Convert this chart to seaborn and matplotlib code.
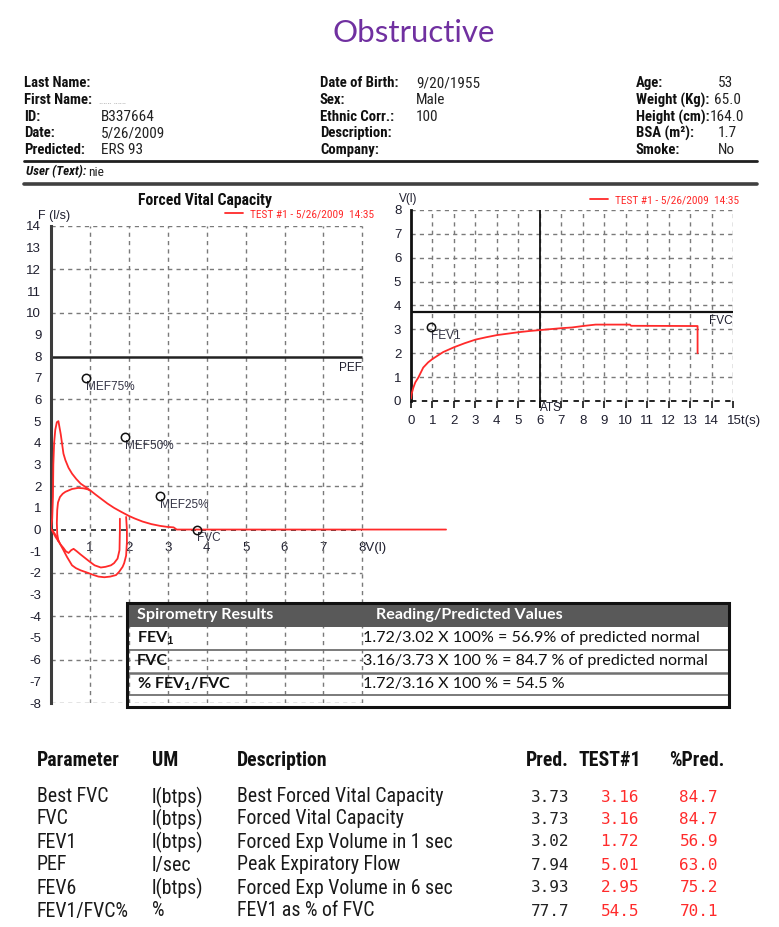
import numpy as np
import pandas as pd
import matplotlib
matplotlib.use("Agg")
import matplotlib.pyplot as plt
import seaborn as sns
from matplotlib.lines import Line2D
from matplotlib.patches import Rectangle
from matplotlib.transforms import ScaledTranslation
from matplotlib import font_manager as fm

# ---------------- data ----------------
# Flow-volume: forced expiration (volume l, flow l/s)
exp_vol = [0.0, 0.03, 0.05, 0.06, 0.08, 0.11, 0.15, 0.19, 0.25, 0.32, 0.37, 0.45, 0.54, 0.65,
           0.76, 0.88, 1.0, 1.14, 1.28, 1.45, 1.62, 1.8, 2.0, 2.15, 2.35, 2.58, 2.8, 3.0, 3.15,
           3.23, 10.15]
exp_flow = [0.0, 0.5, 1.5, 3.0, 4.0, 4.6, 4.95, 5.0, 4.4, 3.5, 3.2, 2.85, 2.58, 2.33,
            2.12, 1.97, 1.82, 1.62, 1.43, 1.2, 1.0, 0.82, 0.63, 0.51, 0.37, 0.25, 0.17, 0.12, 0.1,
            0.0, 0.0]
# second (inner) expiratory attempt
exp2_vol = [0.19, 0.16, 0.15, 0.16, 0.18, 0.23, 0.3, 0.37, 0.54, 0.7, 0.84, 0.95, 1.0]
exp2_flow = [-0.54, -0.2, 0.3, 0.9, 1.25, 1.5, 1.65, 1.74, 1.87, 1.92, 1.9, 1.85, 1.8]
# inspiratory loops
insp1_vol = [1.93, 1.95, 1.95, 1.93, 1.88, 1.84, 1.75, 1.67, 1.52, 1.37, 1.22, 1.1, 0.95, 0.76,
             0.64, 0.54, 0.41, 0.32, 0.23, 0.15, 0.06, 0.02]
insp1_flow = [0.58, 0.0, -0.6, -1.2, -1.55, -1.72, -1.95, -2.1, -2.17, -2.2, -2.17, -2.1, -2.0,
              -1.88, -1.78, -1.65, -1.26, -0.95, -0.65, -0.34, -0.1, 0.0]
insp2_vol = [1.77, 1.77, 1.76, 1.71, 1.62, 1.54, 1.4, 1.28, 1.12, 1.0, 0.88, 0.76, 0.66, 0.58,
             0.52, 0.45, 0.38, 0.32, 0.25, 0.19, 0.12, 0.06, 0.02]
insp2_flow = [0.5, 0.0, -0.95, -1.34, -1.55, -1.65, -1.72, -1.75, -1.65, -1.49, -1.32, -1.15,
              -1.0, -0.89, -0.95, -1.08, -1.0, -0.85, -0.7, -0.54, -0.35, -0.15, 0.0]

mef_names = ["MEF75%", "MEF50%", "MEF25%", "FVC"]
mef_vol = [0.9, 1.9, 2.8, 3.75]
mef_flow = [7.0, 4.25, 1.55, 0.0]
pef_pred = 7.94

# Volume-time
vt_time = [0, 0.03, 0.11, 0.2, 0.34, 0.57, 0.8, 1.0, 1.5, 2.0, 2.5, 3.0, 3.5, 4.0, 4.5, 5.0,
           5.5, 6.0, 6.5, 7.0, 7.5, 8.0, 8.6, 10.2, 10.25, 13.35, 13.35]
vt_vol = [0.1, 0.3, 0.56, 0.78, 0.98, 1.4, 1.62, 1.76, 2.05, 2.25, 2.42, 2.57, 2.67, 2.76,
          2.82, 2.88, 2.93, 2.97, 3.01, 3.05, 3.08, 3.14, 3.2, 3.2, 3.15, 3.14, 2.0]
fvc_pred = 3.73
ats_time = 6
fev1_mark = (0.93, 3.1)

# header info
col1_labels = ["Last Name:", "First Name:", "ID:", "Date:", "Predicted:"]
col1_values = ["", "", "B337664", "5/26/2009", "ERS 93"]
col2_labels = ["Date of Birth:", "Sex:", "Ethnic Corr.:", "Description:", "Company:"]
col2_values = ["9/20/1955", "Male", "100", "", ""]
col3_labels = ["Age:", "Weight (Kg):", "Height (cm):", "BSA (m\u00b2):", "Smoke:"]
col3_values = ["53", "65.0", "164.0", "1.7", "No"]

# spirometry summary
spiro_rows = ["FEV$_1$", "FVC", "% FEV$_1$/FVC"]
spiro_vals = ["1.72/3.02 X 100% = 56.9% of predicted normal",
              "3.16/3.73 X 100 % = 84.7 % of predicted normal",
              "1.72/3.16 X 100 % = 54.5 %"]

# parameter table
par_names = ["Best FVC", "FVC", "FEV1", "PEF", "FEV6", "FEV1/FVC%"]
par_um = ["l(btps)", "l(btps)", "l(btps)", "l/sec", "l(btps)", "%"]
par_desc = ["Best Forced Vital Capacity", "Forced Vital Capacity", "Forced Exp Volume in 1 sec",
            "Peak Expiratory Flow", "Forced Exp Volume in 6 sec", "FEV1 as % of FVC"]
par_pred = ["3.73", "3.73", "3.02", "7.94", "3.93", "77.7"]
par_test = ["3.16", "3.16", "1.72", "5.01", "2.95", "54.5"]
par_pct = ["84.7", "84.7", "56.9", "63.0", "75.2", "70.1"]

legend_text = "TEST #1 - 5/26/2009  14:35"

# ---------------- style ----------------
sns.set_theme(style="white")
names = {f.name for f in fm.fontManager.ttflist}
COND = next((n for n in ["Liberation Sans Narrow", "Arial Narrow", "Roboto Condensed"] if n in names), None)
NARROW = COND is not None
if COND is None:
    COND = "Liberation Sans"
SC = 1.0 if NARROW else 0.84
plt.rcParams["font.family"] = ["Liberation Sans", "DejaVu Sans"]
plt.rcParams["mathtext.fontset"] = "custom"
plt.rcParams["mathtext.rm"] = "Lato:bold"
plt.rcParams["mathtext.bf"] = "Lato:bold"
plt.rcParams["mathtext.default"] = "rm"

W, H = 779, 927
fig = plt.figure(figsize=(W / 100, H / 100), dpi=100)
fig.patch.set_facecolor("white")

RED = "#ff2a2a"
GRID = "#7a7a7a"
INK = "#1e1e2e"


def ftext(x, y, s, size, weight="normal", color="#111111", ha="left", family=None, style="normal", zorder=5):
    fig.text(x / W, 1 - y / H, s, fontsize=size, fontweight=weight, color=color, ha=ha, va="center",
             family=family if family is not None else [COND, "DejaVu Sans"], style=style, zorder=zorder)


def fline(x0, x1, y0, y1, lw, color, zorder=5):
    fig.add_artist(Line2D([x0 / W, x1 / W], [1 - y0 / H, 1 - y1 / H], transform=fig.transFigure,
                          lw=lw, color=color, zorder=zorder))


# title
ftext(414, 33, "Obstructive", 22.5, color="#7030a0", ha="center", family=["Lato", "DejaVu Sans"])

# header block
HS = 10.6 * SC
VS = 11.0 * SC
rows_y = [83, 100, 117, 133, 150]
col3_x = [718, 714, 710, 718, 718]
for i, y in enumerate(rows_y):
    ftext(24, y, col1_labels[i], HS, weight="bold")
    if col1_values[i]:
        ftext(101, y, col1_values[i], VS, color="#222222")
    ftext(320, y, col2_labels[i], HS, weight="bold")
    if col2_values[i]:
        ftext(416, y, col2_values[i], VS, color="#222222")
    ftext(636, y, col3_labels[i], HS, weight="bold")
    ftext(col3_x[i], y, col3_values[i], VS, color="#222222")
ftext(99, 101, "\u2025\u2025\u2025 \u2025\u2025\u2025", 7, color="#a0a0a0")
fline(24, 757, 161, 161, 2.0, "#202020")
ftext(26, 172, "User (Text):", 9.4 * SC, weight="bold", style="italic")
ftext(88, 172, "nie", 9.6 * SC, color="#222222")
fline(24, 757, 184, 184, 2.6, "#404040")

# ---------------- flow-volume chart ----------------
ax1 = fig.add_axes([51 / W, 1 - 703 / H, (448 - 51) / W, (703 - 226) / H])
ax1.set_xlim(0, 10.2)
ax1.set_ylim(-8, 14)
ax1.patch.set_alpha(0)
for s in ["top", "right"]:
    ax1.spines[s].set_visible(False)
ax1.spines["bottom"].set_position(("data", 0))
ax1.spines["bottom"].set_color("none")
ax1.spines["left"].set_linewidth(2.2)
ax1.spines["left"].set_color("#3c3c3c")

ax1.hlines([y for y in range(-8, 15, 2) if y not in (0, 8)], 0, 8, colors=GRID, lw=1.0,
           linestyles=(0, (3, 3)), zorder=1)
ax1.vlines(range(1, 9), -8, 14, colors=GRID, lw=1.0, linestyles=(0, (3, 3)), zorder=1)
ax1.hlines(0, 0, 8, colors="#222222", lw=1.2, linestyles=(0, (3, 3)), zorder=1)
ax1.hlines(pef_pred, 0, 8, colors="#222222", lw=1.8, zorder=2)
ax1.text(8, pef_pred - 0.2, "PEF", ha="right", va="top", fontsize=8.5, color=INK)

for xs, ys in [(exp_vol, exp_flow), (exp2_vol, exp2_flow), (insp1_vol, insp1_flow), (insp2_vol, insp2_flow)]:
    sns.lineplot(x=xs, y=ys, sort=False, estimator=None, ax=ax1, color=RED, lw=1.3, zorder=3)

ax1.plot(mef_vol, mef_flow, "o", mfc="none", mec="#111111", ms=6, mew=1.1, zorder=4)
for n, xv, yv in zip(mef_names, mef_vol, mef_flow):
    ax1.annotate(n, (xv, yv), xytext=(0, -2), textcoords="offset points", ha="left", va="top",
                 fontsize=8.5, color="#333344")

ax1.set_yticks(range(-8, 15))
ax1.set_yticklabels([str(v) for v in range(-8, 15)])
ax1.set_xticks(range(1, 9))
xl = [str(v) for v in range(1, 8)] + ["8V(l)"]
ax1.set_xticklabels(xl)
ax1.tick_params(axis="y", direction="out", length=5, width=1.5, pad=2, labelsize=9.5, labelcolor=INK, color="#3c3c3c")
ax1.tick_params(axis="x", direction="out", length=5, width=1.2, pad=4, labelsize=9.5, labelcolor=INK, color="#222222")
lab = ax1.get_xticklabels()[-1]
lab.set_horizontalalignment("left")
lab.set_transform(lab.get_transform() + ScaledTranslation(-3.5 / 100, 0, fig.dpi_scale_trans))
ax1.set_xlabel("")
ax1.set_ylabel("")
ax1.text(-0.33, 14.2, "F (l/s)", ha="left", va="bottom", fontsize=9, color=INK)

ftext(205, 200, "Forced Vital Capacity", 11.3 * SC, weight="bold", ha="center")
fline(225, 243, 213, 213, 1.3, RED)
ftext(250, 214, legend_text, 8.2 * SC, color=RED)

# ---------------- volume-time chart ----------------
ax2 = fig.add_axes([411 / W, 1 - 401 / H, 322 / W, 191 / H])
ax2.set_xlim(0, 15)
ax2.set_ylim(0, 8)
ax2.patch.set_alpha(0)
for s in ["top", "right", "bottom"]:
    ax2.spines[s].set_visible(False)
ax2.spines["left"].set_linewidth(2.0)
ax2.spines["left"].set_color("#111111")
ax2.hlines(range(1, 9), 0, 15, colors=GRID, lw=1.0, linestyles=(0, (3, 3)), zorder=1)
ax2.vlines(range(1, 16), 0, 8, colors=GRID, lw=1.0, linestyles=(0, (3, 3)), zorder=1)
ax2.hlines(0, 0, 15, colors="#111111", lw=1.3, linestyles=(0, (3, 3)), zorder=1, clip_on=False)
ax2.hlines(fvc_pred, 0, 15, colors="#111111", lw=1.6, zorder=2)
ax2.vlines(ats_time, -0.28, 8, colors="#111111", lw=1.3, zorder=2, clip_on=False)
ax2.text(15, fvc_pred - 0.12, "FVC", ha="right", va="top", fontsize=8.5, color=INK)
ax2.text(ats_time + 0.02, -0.05, "ATS", ha="left", va="top", fontsize=8.5, color=INK, clip_on=False)
sns.lineplot(x=vt_time, y=vt_vol, sort=False, estimator=None, ax=ax2, color=RED, lw=1.3, zorder=3)
ax2.plot([fev1_mark[0]], [fev1_mark[1]], "o", mfc="none", mec="#111111", ms=6, mew=1.1, zorder=4)
ax2.annotate("FEV1", fev1_mark, xytext=(0, -2), textcoords="offset points", ha="left", va="top",
             fontsize=8.5, color="#333344")
ax2.set_yticks(range(0, 9))
ax2.set_xticks(range(0, 16))
ax2.set_xticklabels([str(v) for v in range(0, 15)] + ["15t(s)"])
ax2.tick_params(axis="y", direction="out", length=5, width=1.5, pad=2, labelsize=9.5, labelcolor=INK, color="#111111")
ax2.tick_params(axis="x", direction="out", length=5, width=1.2, pad=5, labelsize=9.5, labelcolor=INK, color="#111111")
ax2.xaxis.set_ticks_position("bottom")
lab = ax2.get_xticklabels()[-1]
lab.set_horizontalalignment("left")
lab.set_transform(lab.get_transform() + ScaledTranslation(-6 / 100, 0, fig.dpi_scale_trans))
ax2.set_xlabel("")
ax2.set_ylabel("")
ftext(399, 199, "V(l)", 8.5, color=INK, family=["Liberation Sans", "DejaVu Sans"])
fline(590, 608, 199, 199, 1.3, RED)
ftext(615, 200, legend_text, 8.2 * SC, color=RED)

# ---------------- spirometry results box ----------------
TX0, TX1, TY0, TY1 = 127, 729, 603, 707
tf = ["Lato", "DejaVu Sans"]
fig.add_artist(Rectangle((365 / W, 1 - TY1 / H), (TX1 - 365) / W, (TY1 - 627) / H, transform=fig.transFigure,
                         facecolor="white", edgecolor="none", zorder=4))
fig.add_artist(Rectangle((TX0 / W, 1 - 627 / H), (TX1 - TX0) / W, (627 - TY0) / H, transform=fig.transFigure,
                         facecolor="#595959", edgecolor="none", zorder=4))
for yy, lw_ in [(650, 1.3), (673, 1.8), (695, 1.3)]:
    fline(TX0, TX1, yy, yy, lw_, "#707070", zorder=5)
fig.add_artist(Rectangle((TX0 / W, 1 - TY1 / H), (TX1 - TX0) / W, (TY1 - TY0) / H, transform=fig.transFigure,
                         facecolor="none", edgecolor="#111111", lw=2.2, zorder=6))
ftext(137, 615, "Spirometry Results", 11.6, weight="bold", color="white", family=tf)
ftext(376, 615, "Reading/Predicted Values", 11.6, weight="bold", color="white", family=tf)
for i, yy in enumerate([638, 661, 684]):
    ftext(137, yy, spiro_rows[i], 11.6, weight="bold", color="#111111", family=tf)
    ftext(363, yy, spiro_vals[i], 11.6, color="#111111", family=tf)

# ---------------- parameter table ----------------
hs = 14.2 * SC
ftext(37, 760, "Parameter", hs, weight="bold")
ftext(152, 760, "UM", hs, weight="bold")
ftext(237, 760, "Description", hs, weight="bold")
ftext(569, 760, "Pred.", hs, weight="bold", ha="right")
ftext(641, 760, "TEST#1", hs, weight="bold", ha="right")
ftext(724, 760, "%Pred.", hs, weight="bold", ha="right")
rs = 14.3 * SC
mono = ["DejaVu Sans Mono"]
for i, yy in enumerate([797, 819, 842, 865, 888, 911]):
    ftext(37, yy, par_names[i], rs, color="#1a1a1a")
    ftext(152, yy, par_um[i], rs, color="#1a1a1a")
    ftext(237, yy, par_desc[i], rs, color="#1a1a1a")
    ftext(569, yy, par_pred[i], 11.5, color="#222222", ha="right", family=mono)
    ftext(639, yy, par_test[i], 11.5, color=RED, ha="right", family=mono)
    ftext(718, yy, par_pct[i], 11.5, color=RED, ha="right", family=mono)

fig.savefig("out.png", dpi=100, facecolor="white")
